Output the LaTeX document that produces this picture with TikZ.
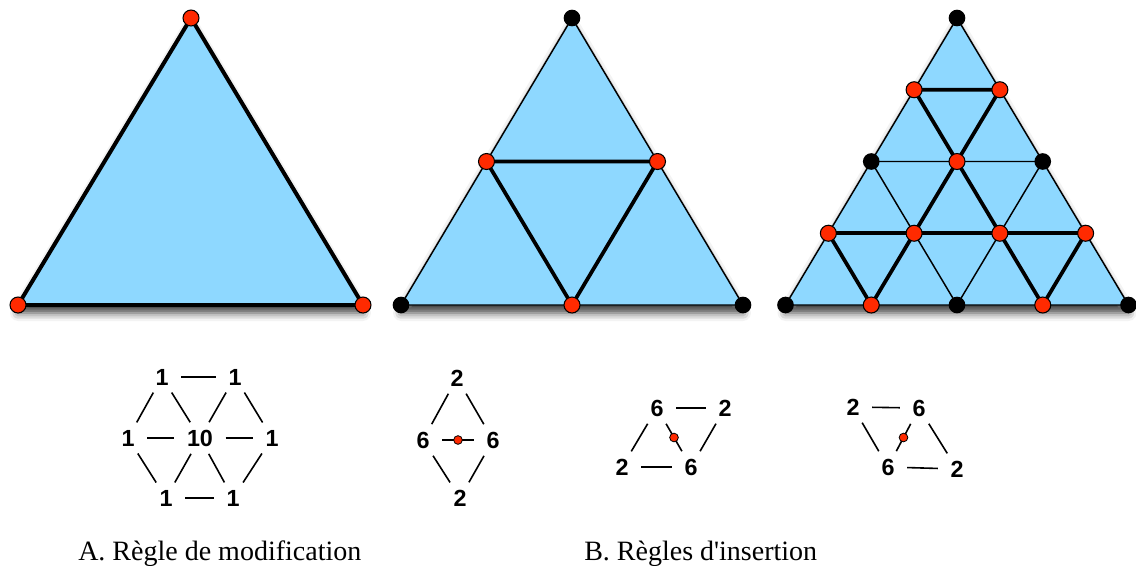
\documentclass[tikz,border=0pt]{standalone}
\usepackage{fontspec}
\newfontfamily\capfont{Liberation Serif}
\newfontfamily\numfont{Liberation Sans}
\usetikzlibrary{shadows.blur,calc}
\definecolor{triblue}{HTML}{8ED8FF}
\definecolor{vred}{HTML}{FF2A00}
\begin{document}
\begin{tikzpicture}[x=0.75pt,y=-0.75pt,
  tri/.style={fill=triblue, blur shadow={shadow xshift=0pt, shadow yshift=-6pt, shadow blur radius=6pt, shadow opacity=75}},
  thickedge/.style={line width=3pt, line join=round, line cap=round},
  midedge/.style={line width=2.8pt, line join=round, line cap=round},
  thinedge/.style={line width=1.1pt, line join=round},
  rv/.style={circle, fill=vred, draw=black, line width=0.8pt, inner sep=0pt, minimum size=12pt},
  bv/.style={circle, fill=black, inner sep=0pt, minimum size=12.5pt},
  num/.style={font=\numfont\bfseries\fontsize{17.5}{20}\selectfont, inner xsep=7pt, inner ysep=3.5pt},
  sl/.style={line width=1.2pt, shorten <=2.25pt, shorten >=2.25pt},
  dotv/.style={circle, fill=vred, draw=black, line width=0.6pt, inner sep=0pt, minimum size=6.5pt},
  captxt/.style={font=\capfont\fontsize{21}{24}\selectfont, inner sep=0pt, anchor=base west}]
\useasboundingbox (0,0) rectangle (1136,565);

% ---------- Triangle 1 ----------
\coordinate (At) at (191,18);
\coordinate (Al) at (18,305);
\coordinate (Ar) at (363,305);
\fill[tri] (At) -- (Al) -- (Ar) -- cycle;
\draw[thickedge] (At) -- (Al) -- (Ar) -- cycle;
\node[rv] (vAt) at (At) {};
\node[rv] (vAl) at (Al) {};
\node[rv] (vAr) at (Ar) {};

% ---------- Triangle 2 ----------
\coordinate (Bt) at (572,18);
\coordinate (Bl) at (401,305);
\coordinate (Br) at (743,305);
\coordinate (Bml) at ($(Bt)!0.5!(Bl)$);
\coordinate (Bmr) at ($(Bt)!0.5!(Br)$);
\coordinate (Bmb) at ($(Bl)!0.5!(Br)$);
\fill[tri] (Bt) -- (Bl) -- (Br) -- cycle;
\draw[thinedge] (Bt) -- (Bl) -- (Br) -- cycle;
\draw[midedge] (Bml) -- (Bmr) -- (Bmb) -- cycle;
\node[bv] (vBt) at (Bt) {};
\node[bv] (vBl) at (Bl) {};
\node[bv] (vBr) at (Br) {};
\node[rv] (vBml) at (Bml) {};
\node[rv] (vBmr) at (Bmr) {};
\node[rv] (vBmb) at (Bmb) {};

% ---------- Triangle 3 ----------
\foreach \k in {0,...,4}{
  \foreach \i in {0,...,\k}{
    \coordinate (c-\k-\i) at ({957-42.875*\k+85.75*\i},{18+71.75*\k});
  }
}
\fill[tri] (c-0-0) -- (c-4-0) -- (c-4-4) -- cycle;
\foreach \k in {0,...,3}{
  \foreach \i in {0,...,\k}{
    \pgfmathtruncatemacro{\kk}{\k+1}
    \pgfmathtruncatemacro{\ii}{\i+1}
    \draw[thinedge] (c-\k-\i) -- (c-\kk-\i) -- (c-\kk-\ii) -- cycle;
  }
}
\draw[midedge] (c-1-0) -- (c-1-1) -- (c-2-1) -- cycle;
\draw[midedge] (c-3-1) -- (c-2-1) -- (c-3-2);
\draw[midedge] (c-3-0) -- (c-3-3);
\draw[midedge] (c-3-0) -- (c-4-1) -- (c-3-1);
\draw[midedge] (c-3-2) -- (c-4-3) -- (c-3-3);
\foreach \p in {0-0,2-0,2-2,4-0,4-2,4-4}{ \node[bv] (v-\p) at (c-\p) {}; }
\foreach \p in {1-0,1-1,2-1,3-0,3-1,3-2,3-3,4-1,4-3}{ \node[rv] (v-\p) at (c-\p) {}; }

% ---------- Stencil A ----------
\node[num] (a1) at (162,377) {1};
\node[num] (a2) at (235,377) {1};
\node[num] (a3) at (128,438) {1};
\node[num] (a0) at (200,438) {10};
\node[num] (a4) at (272,438) {1};
\node[num] (a5) at (166,498) {1};
\node[num] (a6) at (233,498) {1};
\draw[sl] (a1) -- (a2);
\draw[sl] (a3) -- (a0);
\draw[sl] (a0) -- (a4);
\draw[sl] (a5) -- (a6);
\draw[sl] (a1) -- (a3);
\draw[sl] (a1) -- (a0);
\draw[sl] (a2) -- (a0);
\draw[sl] (a2) -- (a4);
\draw[sl] (a3) -- (a5);
\draw[sl] (a0) -- (a5);
\draw[sl] (a0) -- (a6);
\draw[sl] (a4) -- (a6);

% ---------- Stencil B ----------
\node[num] (b1) at (457,378) {2};
\node[num] (b2) at (423,440) {6};
\node[num] (b3) at (493,440) {6};
\node[num] (b4) at (460,498) {2};
\draw[sl] (b1) -- (b2);
\draw[sl] (b1) -- (b3);
\draw[sl] (b2) -- (b4);
\draw[sl] (b3) -- (b4);
\draw[sl] (b2) -- (b3);
\node[dotv] (bd) at ($(b2)!0.5!(b3)$) {};

% ---------- Stencil C ----------
\node[num] (c1) at (657,408) {6};
\node[num] (c2) at (725,408) {2};
\node[num] (c3) at (622,467) {2};
\node[num] (c4) at (691,467) {6};
\draw[sl] (c1) -- (c2);
\draw[sl] (c3) -- (c4);
\draw[sl] (c1) -- (c3);
\draw[sl] (c2) -- (c4);
\draw[sl] (c1) -- (c4);
\node[dotv] (cd) at ($(c1)!0.5!(c4)$) {};

% ---------- Stencil D ----------
\node[num] (d1) at (853,407) {2};
\node[num] (d2) at (919,408) {6};
\node[num] (d3) at (888,467) {6};
\node[num] (d4) at (957,469) {2};
\draw[sl] (d1) -- (d2);
\draw[sl] (d3) -- (d4);
\draw[sl] (d1) -- (d3);
\draw[sl] (d2) -- (d4);
\draw[sl] (d2) -- (d3);
\node[dotv] (dd) at ($(d2)!0.5!(d3)$) {};

% ---------- Captions ----------
\node[captxt] (capA) at (78,560) {A. Règle de modification};
\node[captxt] (capB) at (584,560) {B. Règles d'insertion};
\end{tikzpicture}
\end{document}
